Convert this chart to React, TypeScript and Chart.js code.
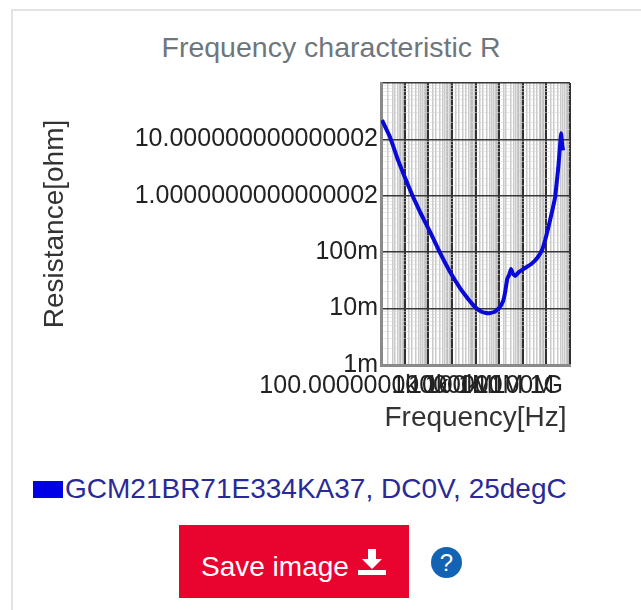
import React, { useEffect, useRef } from "react";
import { Chart, registerables } from "chart.js";

Chart.register(...registerables);

const frequencies = [110, 240, 525, 1050, 2290, 4900, 12000, 31600, 83000, 222000, 490000, 955000, 1.9e6, 3.4e6, 6.2e6, 1e7, 1.48e7, 1.8e7, 2.2e7, 2.65e7, 3.2e7, 3.9e7, 4.8e7, 7e7, 1.26e8, 2.3e8, 4.1e8, 6.6e8, 8.9e8, 1.2e9, 1.8e9, 2.35e9, 3.2e9, 3.8e9, 4.2e9, 4.7e9, 5.1e9];
const resistance = [22, 11, 4.3, 2.07, 0.95, 0.48, 0.23, 0.097, 0.045, 0.023, 0.0148, 0.0107, 0.0087, 0.0083, 0.0087, 0.0102, 0.0136, 0.0197, 0.0335, 0.0394, 0.0504, 0.041, 0.038, 0.0447, 0.0525, 0.0617, 0.0789, 0.11, 0.164, 0.269, 0.56, 0.955, 3.2, 7.9, 12.9, 7.9, 6.4];

const xTickValues = [100, 1e3, 1e4, 1e5, 1e6, 1e7, 1e8, 1e9];
const xTickLabels = ["100.00000000000001", "1k", "10k", "100k", "1M", "10M", "100M", "1G"];
const yTickValues = [0.001, 0.01, 0.1, 1, 10];
const yTickLabels = ["1m", "10m", "100m", "1.0000000000000002", "10.000000000000002"];

const seriesName = "GCM21BR71E334KA37, DC0V, 25degC";
const chartTitle = "Frequency characteristic R";
const FONT = "'Liberation Sans', Arial, sans-serif";

const isDecade = (v: number) => Math.abs(Math.log10(v) - Math.round(Math.log10(v))) < 1e-6;
const near = (a: number, b: number) => Math.abs(a - b) / b < 1e-6;

function labelFor(values: number[], labels: string[], v: number) {
  const i = values.findIndex((t) => near(v, t));
  return i >= 0 ? labels[i] : "";
}

export default function App() {
  const ref = useRef<HTMLCanvasElement>(null);
  useEffect(() => {
    const major = (ctx: any) => ctx.tick && isDecade(ctx.tick.value);
    const chart = new Chart(ref.current!, {
      type: "line",
      data: {
        datasets: [
          {
            label: seriesName,
            data: frequencies.map((x, i) => ({ x, y: resistance[i] })),
            borderColor: "#0a0ad8",
            borderWidth: 4,
            pointRadius: 0,
            tension: 0.1,
          },
        ],
      },
      options: {
        responsive: false,
        animation: false,
        layout: { padding: { top: 83, right: 71, bottom: 0, left: 0 } },
        plugins: {
          tooltip: { enabled: false },
          title: { display: false },
          legend: { display: false },
        },
        scales: {
          x: {
            type: "logarithmic",
            min: 100,
            max: 1e10,
            border: { display: true, color: "#8a8a8a", width: 3 },
            grid: {
              color: (ctx: any) => (major(ctx) ? "#303030" : "rgba(150,150,150,0.5)"),
              lineWidth: (ctx: any) => (major(ctx) ? 2 : 1.5),
              drawTicks: false,
            },
            ticks: {
              autoSkip: false,
              maxRotation: 0,
              minRotation: 0,
              padding: 6,
              color: "#222",
              font: { family: FONT, size: 25 },
              callback: (v: any) => labelFor(xTickValues, xTickLabels, Number(v)),
            },
            title: {
              display: true,
              text: "Frequency[Hz]",
              color: "#333",
              font: { family: FONT, size: 28 },
              padding: { top: 0, bottom: 0 },
            },
            afterFit: (s: any) => {
              s.height = 70;
            },
          },
          y: {
            type: "logarithmic",
            min: 0.001,
            max: 100,
            border: { display: true, color: "#8a8a8a", width: 3 },
            grid: {
              color: (ctx: any) => (major(ctx) ? "#383838" : "rgba(215,215,215,0.55)"),
              lineWidth: (ctx: any) => (major(ctx) ? 1.5 : 1),
              drawTicks: false,
            },
            ticks: {
              autoSkip: false,
              padding: 3,
              color: "#222",
              font: { family: FONT, size: 25 },
              callback: (v: any) => labelFor(yTickValues, yTickLabels, Number(v)),
            },
            title: {
              display: true,
              text: "Resistance[ohm]",
              color: "#333",
              font: { family: FONT, size: 28 },
              padding: { top: 17, bottom: 0 },
            },
            afterFit: (s: any) => {
              s.width = 360;
            },
          },
        },
      },
    } as any);
    return () => chart.destroy();
  }, []);

  return (
    <div style={{ position: "absolute", left: 0, top: 0, width: 641, height: 610, overflow: "hidden", background: "#fff", fontFamily: FONT, filter: "blur(0.5px)" }}>
      <div style={{ position: "absolute", left: 11, top: 9, width: 640, height: 620, border: "2px solid #e2e2e2", boxSizing: "border-box" }} />
      <div style={{ position: "absolute", left: 21, top: 30, width: 620, textAlign: "center", fontSize: 28.5, lineHeight: "34px", color: "#6e767c" }}>{chartTitle}</div>
      <canvas ref={ref} width={620} height={435} style={{ position: "absolute", left: 21, top: 0 }} />
      <div style={{ position: "absolute", left: 33, top: 481, width: 30, height: 17, background: "#0000e6" }} />
      <div style={{ position: "absolute", left: 65, top: 472, fontSize: 28, lineHeight: "34px", color: "#2a2a96", whiteSpace: "nowrap" }}>{seriesName}</div>
      <div style={{ position: "absolute", left: 179, top: 525, width: 230, height: 73, background: "#e8042f", color: "#fff" }}>
        <span style={{ position: "absolute", left: 22, top: 25, fontSize: 28, lineHeight: "34px", whiteSpace: "nowrap" }}>Save image</span>
        <svg width="30" height="30" viewBox="0 0 30 30" style={{ position: "absolute", left: 178, top: 22 }}>
          <path d="M11 2h8v10h6L15 22 5 12h6z" fill="#fff" />
          <rect x="1" y="23" width="28" height="5" fill="#fff" />
        </svg>
      </div>
      <div style={{ position: "absolute", left: 431, top: 547, width: 31, height: 31, borderRadius: "50%", background: "#1263b4", color: "#fff", fontSize: 24, textAlign: "center", lineHeight: "31px" }}>?</div>
    </div>
  );
}
